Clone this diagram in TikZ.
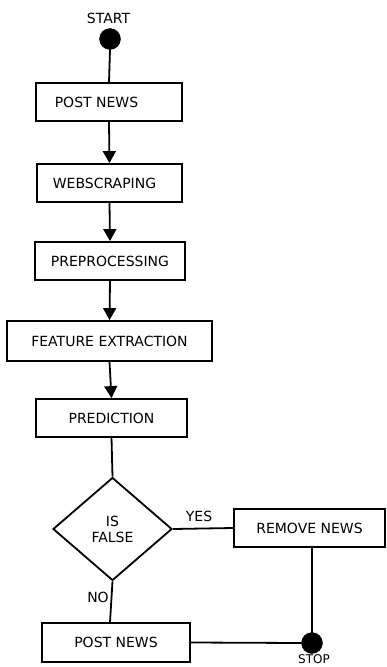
\documentclass[tikz,border=0pt]{standalone}
\usepackage{fontspec}
\setmainfont{DejaVu Sans}
\usetikzlibrary{shapes.geometric,arrows.meta}
\begin{document}
\begin{tikzpicture}[x=1pt,y=-1pt,
  every node/.style={font=\fontsize{14}{16}\selectfont},
  stepbox/.style={draw,line width=1.8pt,rectangle,inner sep=0pt,minimum height=38pt},
  dot/.style={circle,fill=black,draw=black,minimum size=21pt,inner sep=0pt},
  decide/.style={draw,line width=1.8pt,diamond,aspect=1.155,minimum width=119pt,minimum height=103pt,inner sep=0pt,align=center},
  flow/.style={line width=1.8pt},
  arr/.style={flow,-{Triangle[length=12pt,width=13pt]}},
  tag/.style={inner sep=0pt}]
\useasboundingbox (0,0) rectangle (387,667);

% start point
\node[tag] (startlbl) at (108.5,18.5) {START};
\node[dot] (start) at (110,39) {};

% processing chain
\node[stepbox,minimum width=146pt,label={[xshift=-12.5pt]center:POST NEWS}] (post) at (109,102) {};
\node[stepbox,minimum width=145pt,label={[xshift=-5pt]center:WEBSCRAPING}] (scrape) at (109.5,183) {};
\node[stepbox,minimum width=150pt] (prep) at (110,261) {PREPROCESSING};
\node[stepbox,minimum width=205pt,minimum height=40pt] (feat) at (109.5,341) {FEATURE EXTRACTION};
\node[stepbox,minimum width=151pt] (pred) at (111.5,418) {PREDICTION};

% decision
\node[decide] (check) at (112.5,529) {IS\\FALSE};
\node[stepbox,minimum width=151pt] (remove) at (309.5,528) {REMOVE NEWS};
\node[stepbox,minimum width=148pt,minimum height=39pt] (repost) at (116,642.5) {POST NEWS};

% end point
\node[dot] (stop) at (312,643) {};
\node[tag,font=\fontsize{12}{14}\selectfont] (stoplbl) at (314,659.5) {STOP};

% branch labels
\node[tag] (yes) at (199,516) {YES};
\node[tag] (no) at (98,597) {NO};

% connectors
\draw[flow] (start.south) -- (post.north);
\draw[arr] (post.south) -- (scrape.north);
\draw[arr] (scrape.south) -- (prep.north);
\draw[arr] (prep.south) -- (feat.north);
\draw[arr] (feat.south) -- (pred.north);
\draw[flow] (pred.south) -- (check.north);
\draw[flow] (check.east) -- (remove.west);
\draw[flow] (check.south) -- ([xshift=-6pt]repost.north);
\draw[flow] ([xshift=2.5pt]remove.south) -- (stop.center);
\draw[flow] (repost.east) -- (stop.west);
\end{tikzpicture}
\end{document}
